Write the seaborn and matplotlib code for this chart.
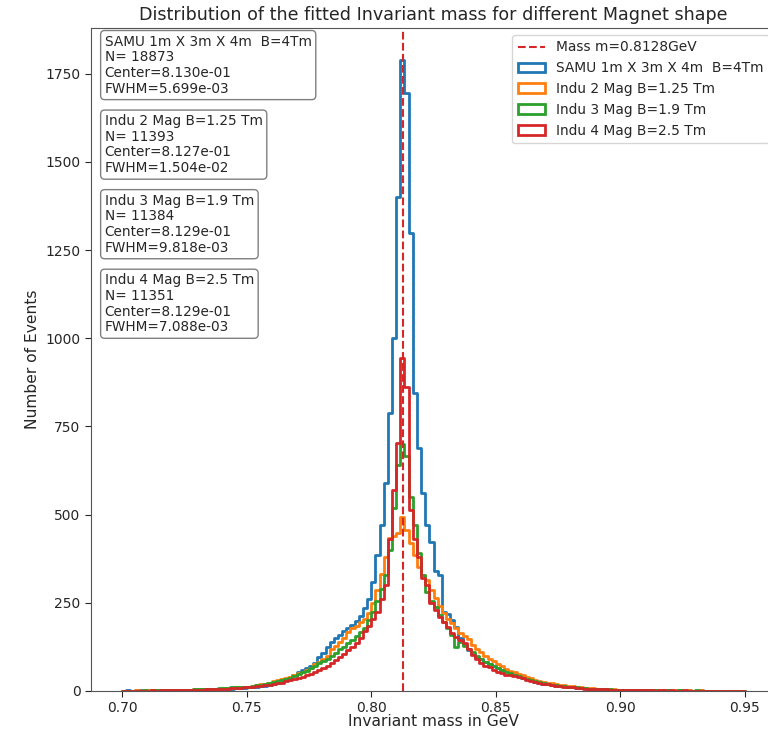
import numpy as np
import pandas as pd
import matplotlib
matplotlib.use("Agg")
import matplotlib.pyplot as plt
import seaborn as sns
from matplotlib.patches import Patch
from matplotlib.lines import Line2D
from matplotlib.ticker import MultipleLocator

# Histogram binning of the fitted invariant mass (GeV)
mass_range = (0.70, 0.95)
n_bins = 150
mass_ref = 0.8128

labels = [
    "SAMU 1m X 3m X 4m  B=4Tm",
    "Indu 2 Mag B=1.25 Tm",
    "Indu 3 Mag B=1.9 Tm",
    "Indu 4 Mag B=2.5 Tm",
]
colors = ["tab:blue", "tab:orange", "tab:green", "tab:red"]

n_events = [18873, 11393, 11384, 11351]
centers_fit = ["8.130e-01", "8.127e-01", "8.129e-01", "8.129e-01"]
fwhm_fit = ["5.699e-03", "1.504e-02", "9.818e-03", "7.088e-03"]

# Events per bin for each magnet configuration
counts_samu = [
    1, 2, 1, 2, 2, 1, 3, 2, 2, 3,
    2, 3, 3, 2, 4, 3, 3, 4, 4, 5,
    4, 5, 6, 5, 6, 7, 7, 8, 9, 8,
    10, 11, 12, 14, 15, 17, 20, 22, 26, 30,
    37, 45, 55, 60, 66, 72, 80, 95, 108, 125,
    140, 150, 158, 170, 180, 186, 198, 212, 235, 262,
    309, 385, 470, 589, 787, 1000, 1400, 1790, 1695, 1300,
    844, 688, 560, 470, 422, 340, 328, 225, 218, 200,
    182, 150, 130, 116, 105, 95, 90, 83, 76, 70,
    65, 60, 56, 52, 49, 45, 40, 35, 30, 26,
    24, 21, 19, 17, 15, 14, 13, 12, 10, 9,
    8, 8, 7, 6, 6, 5, 5, 4, 4, 4,
    3, 2, 3, 2, 2, 3, 2, 1, 2, 2,
    1, 2, 1, 2, 1, 1, 2, 1, 1, 2,
    1, 1, 0, 1, 1, 1, 0, 1, 1, 1,
]
counts_indu2 = [
    1, 1, 1, 2, 1, 2, 2, 2, 2, 3,
    2, 3, 3, 3, 4, 4, 3, 5, 5, 6,
    5, 6, 7, 7, 8, 9, 9, 10, 11, 12,
    12, 15, 17, 20, 21, 24, 27, 30, 33, 36,
    40, 45, 50, 54, 60, 65, 76, 82, 92, 100,
    118, 128, 140, 150, 168, 178, 185, 195, 205, 220,
    250, 286, 333, 380, 433, 440, 447, 493, 456, 420,
    385, 351, 330, 314, 285, 263, 240, 221, 205, 192,
    178, 165, 155, 148, 130, 120, 110, 100, 92, 84,
    76, 70, 63, 58, 53, 48, 44, 40, 36, 32,
    29, 26, 24, 22, 20, 18, 16, 14, 13, 12,
    10, 9, 9, 8, 7, 6, 6, 5, 5, 4,
    4, 3, 4, 3, 3, 2, 3, 2, 2, 3,
    2, 2, 1, 2, 2, 1, 2, 1, 1, 2,
    1, 1, 1, 0, 1, 1, 1, 0, 1, 1,
]
counts_indu3 = [
    1, 1, 1, 1, 1, 2, 1, 2, 2, 2,
    3, 2, 3, 3, 3, 4, 4, 5, 5, 5,
    6, 6, 7, 8, 8, 9, 10, 10, 11, 12,
    12, 14, 16, 18, 20, 22, 25, 28, 31, 34,
    38, 43, 48, 53, 58, 64, 72, 78, 86, 92,
    100, 108, 118, 125, 135, 145, 155, 168, 180, 200,
    225, 255, 290, 330, 400, 520, 640, 700, 665, 550,
    470, 390, 330, 280, 255, 238, 215, 195, 180, 160,
    125, 140, 128, 120, 110, 100, 92, 82, 76, 70,
    64, 60, 54, 50, 46, 42, 38, 34, 30, 27,
    25, 22, 20, 18, 16, 14, 13, 12, 11, 10,
    9, 8, 7, 7, 6, 6, 5, 5, 4, 4,
    4, 3, 3, 3, 2, 3, 2, 2, 2, 1,
    2, 2, 1, 1, 2, 1, 1, 1, 2, 1,
    1, 1, 0, 1, 1, 0, 1, 1, 0, 1,
]
counts_indu4 = [
    1, 1, 0, 1, 1, 1, 1, 2, 1, 2,
    2, 2, 3, 2, 3, 3, 3, 4, 4, 4,
    5, 5, 6, 6, 7, 7, 8, 9, 9, 10,
    10, 12, 13, 14, 16, 18, 20, 22, 24, 27,
    30, 33, 36, 40, 44, 48, 54, 60, 66, 70,
    78, 88, 95, 105, 115, 125, 135, 150, 170, 185,
    205, 225, 260, 300, 430, 569, 702, 943, 862, 512,
    430, 380, 320, 300, 250, 229, 210, 195, 182, 165,
    153, 145, 136, 118, 102, 90, 79, 72, 68, 60,
    54, 50, 46, 44, 42, 40, 36, 32, 28, 25,
    23, 21, 19, 17, 15, 14, 12, 11, 10, 9,
    8, 7, 7, 6, 6, 5, 5, 4, 4, 4,
    3, 3, 2, 3, 2, 2, 3, 2, 1, 2,
    2, 1, 2, 1, 1, 2, 1, 1, 1, 1,
    0, 1, 1, 1, 0, 1, 1, 0, 1, 1,
]
all_counts = [counts_samu, counts_indu2, counts_indu3, counts_indu4]

edges = np.linspace(mass_range[0], mass_range[1], n_bins + 1)
bin_centers = 0.5 * (edges[:-1] + edges[1:])

sns.set_style("ticks")
plt.rcParams["font.family"] = ["DejaVu Sans"]

fig = plt.figure(figsize=(7.68, 7.34), dpi=100)
ax = fig.add_axes([0.1185, 0.0586, 0.892, 0.9033])

for lab, col, cnt in zip(labels, colors, all_counts):
    df = pd.DataFrame({"mass": bin_centers, "events": cnt})
    sns.histplot(data=df, x="mass", weights="events", bins=n_bins,
                 binrange=mass_range, element="step", fill=False,
                 color=col, linewidth=2, ax=ax)

ax.axvline(mass_ref, color="tab:red", linestyle="--", linewidth=1.5)

ax.set_xlim(0.6875, 0.9625)
ax.set_ylim(0, 1880)
ax.yaxis.set_major_locator(MultipleLocator(250))
ax.xaxis.set_major_locator(MultipleLocator(0.05))
ax.tick_params(labelsize=10, length=4)
for sp in ax.spines.values():
    sp.set_color("#555555")

ax.set_title("Distribution of the fitted Invariant mass for different Magnet shape",
             fontsize=12.6)
ax.set_xlabel("Invariant mass in GeV", fontsize=11.2, labelpad=-1)
ax.set_ylabel("Number of Events", fontsize=11.2)

# Fit summary boxes
for i, (lab, n, c, w) in enumerate(zip(labels, n_events, centers_fit, fwhm_fit)):
    txt = f"{lab}\nN= {n}\nCenter={c}\nFWHM={w}"
    ax.text(0.02, 0.99 - 0.12 * i, txt, transform=ax.transAxes,
            va="top", ha="left", fontsize=9.8, linespacing=1.15,
            bbox=dict(boxstyle="round", facecolor="white",
                      edgecolor="black", alpha=0.5))

handles = [Line2D([], [], color="tab:red", linestyle="--", linewidth=1.5)]
handles += [Patch(facecolor="none", edgecolor=c, linewidth=2) for c in colors]
ax.legend(handles, [f"Mass m={mass_ref}GeV"] + labels, loc="upper right",
          fontsize=9.9)

fig.savefig("out.png", dpi=100)
